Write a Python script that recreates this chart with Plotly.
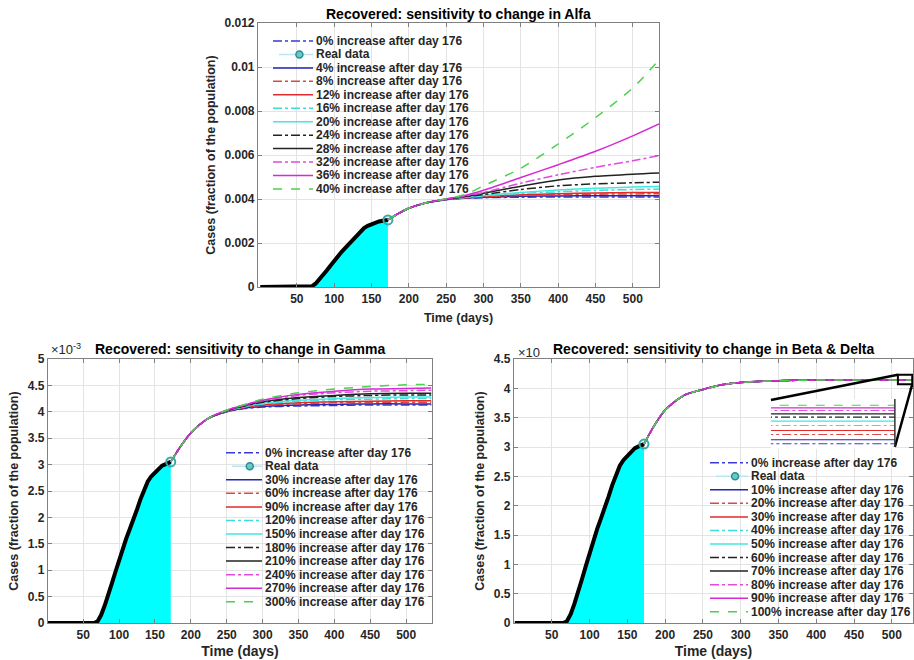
import plotly.graph_objects as go

W, H = 914, 660
FONT = "Liberation Sans, Arial, sans-serif"
TXT = "#262626"

# ---------------- data (cases in units of 1e-3 of the population) ----------------
REAL_DAYS = [1, 10, 20, 30, 40, 50, 60, 65, 70, 75, 80, 85, 90, 95, 100, 105, 110, 115,
             120, 125, 130, 135, 140, 145, 150, 155, 160, 165, 170, 172]
REAL_CASES = [0, 0, 0, 0, 0, 0, 0, 0, 0.03, 0.15, 0.33, 0.52, 0.75, 0.97, 1.20, 1.40, 1.60, 1.78,
              1.95, 2.15, 2.35, 2.52, 2.68, 2.78, 2.85, 2.92, 2.98, 3.01, 3.04, 3.05]
LAST_REAL_DAY = [172]
LAST_REAL_CASE = [3.05]

MODEL_DAYS = [172, 185, 200, 225, 250, 275, 300, 350, 400, 450, 500, 535]

ALFA_LABELS = ["0%", "4%", "8%", "12%", "16%", "20%", "24%", "28%", "32%", "36%", "40%"]
ALFA = [
    [3.05, 3.32, 3.58, 3.84, 3.97, 4.03, 4.06, 4.08, 4.09, 4.09, 4.09, 4.09],
    [3.05, 3.32, 3.58, 3.84, 3.97, 4.04, 4.08, 4.12, 4.14, 4.15, 4.15, 4.15],
    [3.05, 3.32, 3.58, 3.84, 3.98, 4.05, 4.10, 4.16, 4.20, 4.22, 4.23, 4.24],
    [3.05, 3.32, 3.58, 3.84, 3.98, 4.06, 4.11, 4.19, 4.24, 4.27, 4.29, 4.30],
    [3.05, 3.32, 3.58, 3.84, 3.98, 4.07, 4.14, 4.25, 4.33, 4.39, 4.43, 4.45],
    [3.05, 3.32, 3.58, 3.84, 3.99, 4.08, 4.16, 4.30, 4.41, 4.49, 4.54, 4.57],
    [3.05, 3.32, 3.58, 3.84, 3.99, 4.10, 4.20, 4.43, 4.60, 4.69, 4.74, 4.76],
    [3.05, 3.32, 3.58, 3.84, 3.99, 4.11, 4.26, 4.58, 4.86, 5.03, 5.13, 5.18],
    [3.05, 3.32, 3.58, 3.84, 4.00, 4.13, 4.30, 4.72, 5.10, 5.44, 5.74, 5.97],
    [3.05, 3.32, 3.58, 3.84, 4.00, 4.16, 4.40, 4.98, 5.56, 6.17, 6.87, 7.41],
    [3.05, 3.32, 3.58, 3.84, 4.01, 4.20, 4.60, 5.40, 6.50, 7.70, 9.05, 10.33],
]

GAMMA_LABELS = ["0%", "30%", "60%", "90%", "120%", "150%", "180%", "210%", "240%", "270%", "300%"]
GAMMA = [
    [3.05, 3.33, 3.60, 3.88, 4.00, 4.06, 4.09, 4.11, 4.12, 4.13, 4.13, 4.13],
    [3.05, 3.33, 3.60, 3.88, 4.00, 4.07, 4.10, 4.13, 4.14, 4.15, 4.15, 4.15],
    [3.05, 3.33, 3.60, 3.88, 4.01, 4.08, 4.12, 4.15, 4.17, 4.18, 4.18, 4.18],
    [3.05, 3.33, 3.60, 3.88, 4.01, 4.09, 4.13, 4.17, 4.19, 4.20, 4.21, 4.21],
    [3.05, 3.33, 3.60, 3.88, 4.01, 4.10, 4.15, 4.20, 4.23, 4.24, 4.25, 4.25],
    [3.05, 3.33, 3.60, 3.88, 4.02, 4.10, 4.16, 4.22, 4.25, 4.27, 4.28, 4.28],
    [3.05, 3.33, 3.60, 3.88, 4.02, 4.11, 4.18, 4.25, 4.29, 4.31, 4.32, 4.32],
    [3.05, 3.33, 3.60, 3.88, 4.02, 4.12, 4.19, 4.27, 4.31, 4.34, 4.35, 4.35],
    [3.05, 3.33, 3.60, 3.88, 4.03, 4.13, 4.21, 4.31, 4.36, 4.39, 4.40, 4.41],
    [3.05, 3.33, 3.60, 3.88, 4.03, 4.13, 4.22, 4.33, 4.39, 4.43, 4.44, 4.45],
    [3.05, 3.33, 3.60, 3.88, 4.03, 4.14, 4.24, 4.36, 4.43, 4.48, 4.51, 4.52],
]

BD_LABELS = ["0%", "10%", "20%", "30%", "40%", "50%", "60%", "70%", "80%", "90%", "100%"]
BD = [
    [3.05, 3.35, 3.63, 3.88, 3.98, 4.06, 4.10, 4.13, 4.14, 4.14010, 4.14010, 4.14010],
    [3.05, 3.35, 3.63, 3.88, 3.98, 4.06, 4.10, 4.13, 4.14, 4.14022, 4.14022, 4.14022],
    [3.05, 3.35, 3.63, 3.88, 3.98, 4.06, 4.10, 4.13, 4.14, 4.14038, 4.14038, 4.14038],
    [3.05, 3.35, 3.63, 3.88, 3.98, 4.06, 4.10, 4.13, 4.14, 4.14050, 4.14050, 4.14050],
    [3.05, 3.35, 3.63, 3.88, 3.98, 4.06, 4.10, 4.13, 4.14, 4.14065, 4.14065, 4.14065],
    [3.05, 3.35, 3.63, 3.88, 3.98, 4.06, 4.10, 4.13, 4.14, 4.14078, 4.14078, 4.14078],
    [3.05, 3.35, 3.63, 3.88, 3.98, 4.06, 4.10, 4.13, 4.14, 4.14090, 4.14090, 4.14090],
    [3.05, 3.35, 3.63, 3.88, 3.98, 4.06, 4.10, 4.13, 4.14, 4.14100, 4.14100, 4.14100],
    [3.05, 3.35, 3.63, 3.88, 3.98, 4.06, 4.10, 4.13, 4.14, 4.14110, 4.14110, 4.14110],
    [3.05, 3.35, 3.63, 3.88, 3.98, 4.06, 4.10, 4.13, 4.14, 4.14118, 4.14118, 4.14118],
    [3.05, 3.35, 3.63, 3.88, 3.98, 4.06, 4.10, 4.13, 4.14, 4.14126, 4.14126, 4.14126],
]

X_TICKS = [50, 100, 150, 200, 250, 300, 350, 400, 450, 500]
Y_TICKS_TOP = [0, 0.002, 0.004, 0.006, 0.008, 0.01, 0.012]
Y_TICKTEXT_TOP = ["0", "0.002", "0.004", "0.006", "0.008", "0.01", "0.012"]
Y_TICKS_GAMMA = [0, 0.5, 1, 1.5, 2, 2.5, 3, 3.5, 4, 4.5, 5]
Y_TICKTEXT_GAMMA = ["0", "0.5", "1", "1.5", "2", "2.5", "3", "3.5", "4", "4.5", "5"]
Y_TICKS_BD = [0, 0.5, 1, 1.5, 2, 2.5, 3, 3.5, 4, 4.5]
Y_TICKTEXT_BD = ["0", "0.5", "1", "1.5", "2", "2.5", "3", "3.5", "4", "4.5"]

# ---------------- styles ----------------
STYLES = [
    ("#3a3ad6", "dashdot"), ("#2323b4", "solid"),
    ("#d84a4a", "dashdot"), ("#e22a2a", "solid"),
    ("#3fdcdc", "dashdot"), ("#45e6e0", "solid"),
    ("#222222", "dashdot"), ("#222222", "solid"),
    ("#e04ae0", "dashdot"), ("#d42ad4", "solid"),
    ("#4ccf4c", "dash"),
]
CYAN_FILL = "#00ffff"
TEAL = "#3aa8a8"
REAL_LEG = "#b8e6f5"


def px_x(p):
    return p / W


def px_y(p):
    return 1 - p / H


fig = go.Figure()

PLOTS = [
    ("x", "y", ALFA, 1e-3),
    ("x2", "y2", GAMMA, 1.0),
    ("x3", "y3", BD, 1.0),
]

for xa, ya, series, sc in PLOTS:
    fig.add_trace(go.Scatter(x=REAL_DAYS, y=[v * sc for v in REAL_CASES], mode="none",
                             fill="tozeroy", fillcolor=CYAN_FILL, xaxis=xa, yaxis=ya,
                             showlegend=False, hoverinfo="skip"))
    fig.add_trace(go.Scatter(x=REAL_DAYS, y=[v * sc for v in REAL_CASES], mode="lines",
                             line=dict(color="black", width=4), xaxis=xa, yaxis=ya,
                             showlegend=False))
    for vals, (col, dash) in zip(series, STYLES):
        fig.add_trace(go.Scatter(x=MODEL_DAYS, y=[v * sc for v in vals], mode="lines",
                                 line=dict(color=col, dash=dash, width=1.5, shape="spline", smoothing=0.8),
                                 xaxis=xa, yaxis=ya, showlegend=False))
    fig.add_trace(go.Scatter(x=LAST_REAL_DAY, y=[v * sc for v in LAST_REAL_CASE], mode="markers",
                             marker=dict(symbol="circle-open", size=9, color=TEAL,
                                         line=dict(width=2, color=TEAL)),
                             xaxis=xa, yaxis=ya, showlegend=False))

# inset (zoom of the plateau in the Beta & Delta panel)
X3_DOM = [514, 913]
Y3_DOM = [623, 359]
X3_RANGE = [0, 528]
Y3_RANGE = [0, 4.5]
INSET_X = [340, 504]       # inset placement, in panel data coords
INSET_Y = [2.97, 3.82]
BOX_X = [508, 527]         # zoomed region
BOX_Y = [4.07, 4.23]


def x3_to_paper(v):
    return px_x(X3_DOM[0] + (v - X3_RANGE[0]) / (X3_RANGE[1] - X3_RANGE[0]) * (X3_DOM[1] - X3_DOM[0]))


def y3_to_paper(v):
    return px_y(Y3_DOM[0] + (v - Y3_RANGE[0]) / (Y3_RANGE[1] - Y3_RANGE[0]) * (Y3_DOM[1] - Y3_DOM[0]))


for vals, (col, dash) in zip(BD, STYLES):
    fig.add_trace(go.Scatter(x=MODEL_DAYS, y=vals, mode="lines",
                             line=dict(color=col, dash=dash, width=1.1),
                             xaxis="x4", yaxis="y4", showlegend=False))


def axis_style(**kw):
    d = dict(showline=True, linecolor="#808080", linewidth=1.2, mirror="ticks",
             ticks="inside", ticklen=4, tickcolor="#808080", showgrid=True,
             gridcolor="#e4e4e4", gridwidth=1, zeroline=False, automargin=False,
             tickfont=dict(family=FONT, size=12, color=TXT, weight="bold"))
    d.update(kw)
    return d


def xtitle(size, standoff):
    return dict(text="Time (days)", font=dict(family=FONT, size=size, color=TXT, weight="bold"),
                standoff=standoff)


def ytitle():
    return dict(text="Cases (fraction of the population)",
                font=dict(family=FONT, size=12.5, color=TXT, weight="bold"), standoff=6)


layout = dict(
    width=W, height=H, template="none",
    margin=dict(l=0, r=0, t=0, b=0),
    paper_bgcolor="white", plot_bgcolor="white",
    showlegend=False,
    xaxis=axis_style(domain=[px_x(258), px_x(659)], range=[-2, 535], anchor="y",
                     tickvals=X_TICKS, title=xtitle(12.5, 8)),
    yaxis=axis_style(domain=[px_y(287), px_y(23)], range=[0, 0.012], anchor="x",
                     tickvals=Y_TICKS_TOP, ticktext=Y_TICKTEXT_TOP, title=ytitle()),
    xaxis2=axis_style(domain=[px_x(48), px_x(432)], range=[1, 536], anchor="y2",
                      tickvals=X_TICKS, title=xtitle(14, 5)),
    yaxis2=axis_style(domain=[px_y(623), px_y(359)], range=[0, 5], anchor="x2",
                      tickvals=Y_TICKS_GAMMA, ticktext=Y_TICKTEXT_GAMMA, title=ytitle()),
    xaxis3=axis_style(domain=[px_x(X3_DOM[0]), px_x(X3_DOM[1])], range=X3_RANGE, anchor="y3",
                      tickvals=X_TICKS, title=xtitle(14, 5)),
    yaxis3=axis_style(domain=[px_y(Y3_DOM[0]), px_y(Y3_DOM[1])], range=Y3_RANGE, anchor="x3",
                      tickvals=Y_TICKS_BD, ticktext=Y_TICKTEXT_BD, title=ytitle()),
    xaxis4=dict(domain=[x3_to_paper(INSET_X[0]), x3_to_paper(INSET_X[1])], range=BOX_X,
                anchor="y4", visible=False),
    yaxis4=dict(domain=[y3_to_paper(INSET_Y[0]), y3_to_paper(INSET_Y[1])],
                range=[4.13995, 4.14145], anchor="x4", visible=False),
)

shapes = []
annotations = []

# zoom box, connectors, inset right edge
shapes.append(dict(type="rect", xref="x3", yref="y3", x0=BOX_X[0], x1=BOX_X[1], y0=BOX_Y[0], y1=BOX_Y[1],
                   line=dict(color="black", width=2)))
shapes.append(dict(type="line", xref="x3", yref="y3", x0=INSET_X[0], y0=INSET_Y[1] - 0.02,
                   x1=BOX_X[0], y1=BOX_Y[1], line=dict(color="black", width=2.5)))
shapes.append(dict(type="line", xref="x3", yref="y3", x0=INSET_X[1], y0=INSET_Y[0] + 0.03,
                   x1=BOX_X[1], y1=BOX_Y[0], line=dict(color="black", width=2.5)))
shapes.append(dict(type="line", xref="x3", yref="y3", x0=INSET_X[1], x1=INSET_X[1],
                   y0=INSET_Y[0] + 0.03, y1=INSET_Y[1], line=dict(color="#333333", width=1.5)))


# manual legends
def add_legend(x0, y0, dy, length, labels):
    entries = [labels[0] + " increase after day 176", "Real data"] + \
              [l + " increase after day 176" for l in labels[1:]]
    styles = [STYLES[0], None] + STYLES[1:]
    for i, (txt, st) in enumerate(zip(entries, styles)):
        yy = y0 + i * dy
        if st is None:
            shapes.append(dict(type="line", xref="paper", yref="paper", x0=px_x(x0 + 6), x1=px_x(x0 + length),
                               y0=px_y(yy), y1=px_y(yy), line=dict(color=REAL_LEG, width=1.5)))
            cx = x0 + length * 0.66
            shapes.append(dict(type="circle", xref="paper", yref="paper",
                               x0=px_x(cx - 3.5), x1=px_x(cx + 3.5), y0=px_y(yy + 3.5), y1=px_y(yy - 3.5),
                               fillcolor="#6cc8c8", line=dict(color="#2a8f8f", width=1.5)))
        else:
            col, dash = st
            shapes.append(dict(type="line", xref="paper", yref="paper", x0=px_x(x0), x1=px_x(x0 + length),
                               y0=px_y(yy), y1=px_y(yy), line=dict(color=col, width=1.5, dash=dash)))
        annotations.append(dict(text=txt, xref="paper", yref="paper", x=px_x(x0 + length + 1), y=px_y(yy),
                                xanchor="left", yanchor="middle", showarrow=False,
                                font=dict(family=FONT, size=12, color=TXT, weight="bold")))


add_legend(273, 41, 13.45, 40, ALFA_LABELS)
add_legend(226, 452.7, 13.55, 36, GAMMA_LABELS)
add_legend(710, 462.7, 13.55, 38, BD_LABELS)

# titles
TITLE_FONT = dict(family=FONT, size=14, color="black", weight="bold")
for text, cx, cy in [("Recovered: sensitivity to change in Alfa", (258 + 659) / 2, 14),
                     ("Recovered: sensitivity to change in Gamma", (48 + 432) / 2, 349),
                     ("Recovered: sensitivity to change in Beta & Delta", (514 + 913) / 2, 349)]:
    annotations.append(dict(text=text, xref="paper", yref="paper", x=px_x(cx), y=px_y(cy),
                            xanchor="center", yanchor="middle", showarrow=False, font=TITLE_FONT))

# exponent labels
annotations.append(dict(text="×10<sup>-3</sup>", xref="paper", yref="paper", x=px_x(49), y=px_y(349),
                        xanchor="left", yanchor="middle", showarrow=False,
                        font=dict(family=FONT, size=13, color=TXT)))
annotations.append(dict(text="×10", xref="paper", yref="paper", x=px_x(516), y=px_y(352),
                        xanchor="left", yanchor="middle", showarrow=False,
                        font=dict(family=FONT, size=13, color=TXT)))

layout["shapes"] = shapes
layout["annotations"] = annotations
fig.update_layout(**layout)

fig.write_html("out.html")
